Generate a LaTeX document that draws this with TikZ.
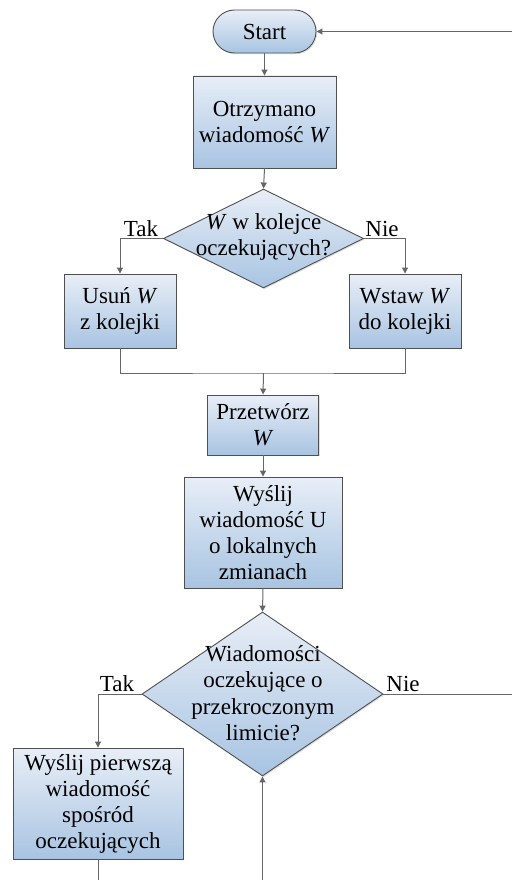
\documentclass[tikz,border=0pt]{standalone}
\usepackage{fontspec}
\setmainfont{Liberation Serif}
\usetikzlibrary{shapes.geometric,arrows.meta,shadows}
\definecolor{boxtop}{HTML}{E8EEF7}
\definecolor{boxbot}{HTML}{A8C4E2}
\definecolor{edgegray}{HTML}{505050}
\definecolor{linegray}{HTML}{666666}
\tikzset{
  flowbox/.style={draw=edgegray, line width=0.9pt, top color=boxtop, bottom color=boxbot,
    align=center, inner sep=0pt, font=\fontsize{23}{26}\selectfont,
    drop shadow={shadow xshift=1.2pt, shadow yshift=-1.2pt, opacity=0.25, fill=gray}},
  decision/.style={flowbox, diamond, aspect=1},
  conn/.style={draw=linegray, line width=1pt},
  arr/.style={conn, -{Triangle[length=6pt,width=6pt]}},
  lbl/.style={font=\fontsize{23}{26}\selectfont, inner sep=0pt},
}
\begin{document}
\begin{tikzpicture}[x=1pt,y=-1pt]
\useasboundingbox (0,0) rectangle (512,880);
% nodes
\node[flowbox, rounded corners=21.5pt, minimum width=103pt, minimum height=43pt] (start) at (264.5,31.5) {Start};
\node[flowbox, minimum width=143pt, minimum height=92pt] (recv) at (264.5,122) {Otrzymano\\wiadomość \textit{W}};
\node[decision, minimum width=200pt, minimum height=99pt] (d1) at (263.5,238.5) {};
\node[lbl, align=center] (d1t) at (263.5,237) {\textit{W} w kolejce\\oczekujących?};
\node[flowbox, minimum width=112pt, minimum height=74pt] (del) at (120,311) {Usuń \textit{W}\\z kolejki};
\node[flowbox, minimum width=112pt, minimum height=74pt] (ins) at (405,311) {Wstaw \textit{W}\\do kolejki};
\coordinate (merge) at (263.5,373);
\node[flowbox, minimum width=111pt, minimum height=60pt] (proc) at (263,425) {Przetwórz\\\textit{W}};
\node[flowbox, minimum width=158pt, minimum height=111pt] (send) at (263,532.5) {Wyślij\\wiadomość U\\o lokalnych\\zmianach};
\node[decision, minimum width=241pt, minimum height=164pt] (d2) at (262.5,694) {};
\node[lbl, align=center, font=\fontsize{23}{26.5}\selectfont] (d2t) at (263,693) {Wiadomości\\oczekujące o\\przekroczonym\\limicie?};
\node[flowbox, minimum width=170pt, minimum height=111pt] (first) at (98,803.5) {Wyślij pierwszą\\wiadomość\\spośród\\oczekujących};
% labels
\node[lbl, anchor=south] (tak1) at (141,237) {Tak};
\node[lbl, anchor=south] (nie1) at (382,237) {Nie};
\node[lbl, anchor=south] (tak2) at (117,692) {Tak};
\node[lbl, anchor=south] (nie2) at (403,692) {Nie};
% off-picture coordinates
\coordinate (topin) at (512,31.5);
\coordinate (rightout) at (512,694);
\coordinate (botleft) at (98,880);
\coordinate (botin) at (262.5,880);
% connectors
\draw[arr] (topin) -- (start.east);
\draw[arr] (start.south) -- (recv.north);
\draw[arr] (recv.south) -- (d1.north);
\draw[arr] (d1.west) -| (del.north);
\draw[arr] (d1.east) -| (ins.north);
\draw[conn] (del.south) |- (merge) -| (ins.south);
\draw[arr] (merge) -- (proc.north);
\draw[arr] (proc.south) -- (send.north);
\draw[arr] (send.south) -- (d2.north);
\draw[arr] (d2.west) -| (first.north);
\draw[conn] (d2.east) -- (rightout);
\draw[conn] (first.south) -- (botleft);
\draw[arr] (botin) -- (d2.south);
\end{tikzpicture}
\end{document}
